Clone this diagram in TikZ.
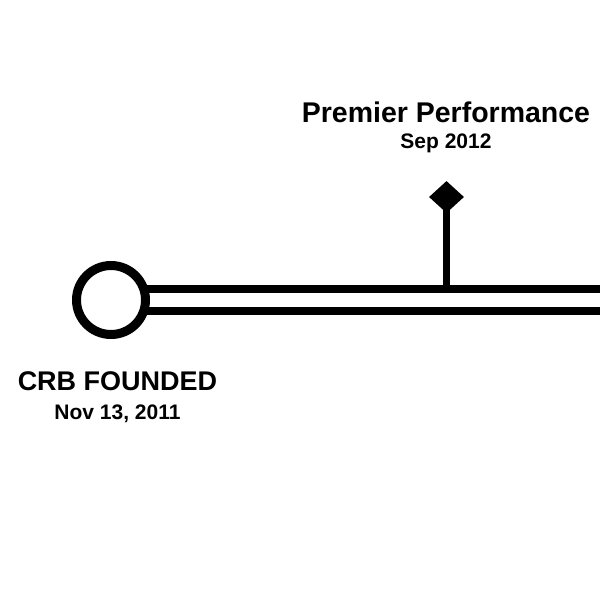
\documentclass[tikz,border=0pt]{standalone}
\usepackage{fontspec}
\setmainfont{Liberation Sans}
\usetikzlibrary{positioning,shapes.geometric}

\tikzset{
  headline/.style={font=\bfseries\fontsize{28.5}{30}\selectfont,anchor=base,inner sep=0pt},
  dateline/.style={font=\bfseries\fontsize{21}{23}\selectfont,anchor=base,inner sep=0pt},
  rail/.style={line width=8pt}
}

\begin{document}
\begin{tikzpicture}[x=1pt,y=-1pt]
  \useasboundingbox (0,0) rectangle (600,600);
  \coordinate (railEnd) at (600,300);
  \coordinate (stemFoot) at (446.5,289);
  % the two rails
  \draw[rail] ([yshift=11pt]railEnd) -- ([yshift=11pt]railEnd -| 140,0);
  \draw[rail] ([yshift=-11pt]railEnd) -- ([yshift=-11pt]railEnd -| 140,0);
  \node[circle,draw,fill=white,line width=9pt,minimum size=69pt,inner sep=0pt] (founded) at (111,300) {};
  % milestone
  \node[diamond,fill=black,minimum width=35pt,minimum height=32pt,inner sep=0pt] (perf) at (446.5,197) {};
  \draw[line width=7pt] (perf.center) -- (stemFoot);
  \node[headline] (perfTitle) at (446,122) {Premier Performance};
  \node[dateline] (perfDate) at (446,148) {Sep 2012};
  \node[headline,font=\bfseries\fontsize{27}{29}\selectfont] (foundTitle) at (117.5,390) {CRB FOUNDED};
  \node[dateline] (foundDate) at (117.5,419) {Nov 13, 2011};
\end{tikzpicture}
\end{document}
